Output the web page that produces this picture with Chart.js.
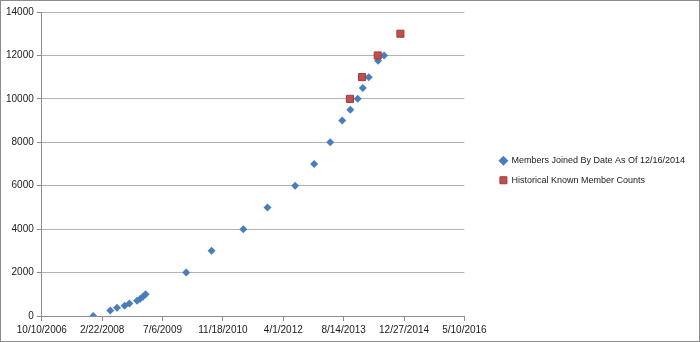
<!DOCTYPE html>
<html lang="en">
<head>
<meta charset="UTF-8">
<title>Members</title>
<style>
  html, body { margin: 0; padding: 0; background: #fff; }
  .frame { width: 700px; height: 342px; box-sizing: border-box; border: 1px solid #8c8c8c; }
</style>
</head>
<body>
<div class="frame">
  <canvas id="myChart" width="698" height="340"></canvas>
</div>

<script src="https://cdn.jsdelivr.net/npm/chart.js"></script>
<script>
  // members joined by date
  const memberDates = ['2007-12-10', '2008-04-29', '2008-06-24', '2008-08-26', '2008-10-04', '2008-12-07',
    '2009-01-03', '2009-01-26', '2009-02-16', '2010-01-18', '2010-08-16', '2011-05-06', '2011-11-22',
    '2012-07-08', '2012-12-13', '2013-04-25', '2013-08-02', '2013-10-08', '2013-12-08', '2014-01-19',
    '2014-03-10', '2014-05-26', '2014-07-15'];
  const memberCounts = [0, 250, 375, 475, 575, 700, 800, 900, 1000, 2000, 3000, 4000, 5000,
    6000, 7000, 8000, 9000, 9500, 10000, 10500, 11000, 11750, 12000];

  // historical known member counts
  const knownDates = ['2013-10-05', '2014-01-13', '2014-05-23', '2014-11-27'];
  const knownCounts = [10000, 11000, 12000, 13000];

  const seriesNames = ['Members Joined By Date As Of 12/16/2014', 'Historical Known Member Counts'];

  // axis range (spreadsheet date serials) and tick steps
  const xMin = 39000, xMax = 42500, xStep = 500;
  const yMin = 0, yMax = 14000, yStep = 2000;

  const DAY = 86400000;
  const EPOCH = Date.UTC(1899, 11, 30);

  const toSerial = s => {
    const [y, m, d] = s.split('-').map(Number);
    return (Date.UTC(y, m - 1, d) - EPOCH) / DAY;
  };
  const fmtSerial = v => {
    const dt = new Date(EPOCH + v * DAY);
    return (dt.getUTCMonth() + 1) + '/' + dt.getUTCDate() + '/' + dt.getUTCFullYear();
  };
  const toPoints = (dates, vals) => dates.map((d, i) => ({ x: toSerial(d), y: vals[i] }));

  // empty layout box that keeps some room between the plot and the legend
  const legendGap = {
    id: 'legendGap',
    beforeInit(chart) {
      Chart.layouts.addBox(chart, {
        position: 'right',
        weight: 500,
        fullSize: false,
        options: {},
        isHorizontal: () => false,
        update(w, h) { this.width = 25; this.height = h; },
        getPadding: () => ({ left: 0, top: 0, right: 0, bottom: 0 }),
        draw() {}
      });
    }
  };

  Chart.defaults.font.family = '"Liberation Sans", Arial, sans-serif';
  Chart.defaults.font.size = 10;
  Chart.defaults.color = '#1a1a1a';

  new Chart(document.getElementById('myChart'), {
    type: 'scatter',
    data: {
      datasets: [{
        label: seriesNames[0],
        data: toPoints(memberDates, memberCounts),
        pointStyle: 'rectRot',
        pointRadius: 4,
        pointHoverRadius: 4,
        backgroundColor: '#4a7ebb',
        borderColor: '#4a7ebb',
        borderWidth: 0,
        order: 1
      }, {
        label: seriesNames[1],
        data: toPoints(knownDates, knownCounts),
        pointStyle: 'rect',
        pointRadius: 5,
        pointHoverRadius: 5,
        backgroundColor: '#c0504d',
        borderColor: '#a03c3a',
        borderWidth: 1,
        order: 0
      }]
    },
    plugins: [legendGap],
    options: {
      responsive: false,
      animation: false,
      layout: { padding: { left: 2, top: 1, right: 4, bottom: 2 } },
      plugins: {
        tooltip: { enabled: false },
        legend: {
          position: 'right',
          maxWidth: 240,
          labels: {
            usePointStyle: true,
            boxWidth: 7,
            boxHeight: 7,
            padding: 10.5,
            font: { size: 9 },
            color: '#1a1a1a',
            sort: (a, b) => a.datasetIndex - b.datasetIndex
          }
        }
      },
      scales: {
        x: {
          type: 'linear',
          min: xMin,
          max: xMax,
          border: { color: '#8c8c8c' },
          grid: { drawOnChartArea: false, tickLength: 5, tickColor: '#8c8c8c' },
          ticks: { stepSize: xStep, maxRotation: 0, padding: 3, callback: v => fmtSerial(v) }
        },
        y: {
          min: yMin,
          max: yMax,
          border: { color: '#8c8c8c' },
          grid: { color: '#b3b3b3', tickLength: 5, tickColor: '#8c8c8c' },
          ticks: { stepSize: yStep, padding: 3, callback: v => String(v) },
          afterFit: axis => { axis.paddingTop = 11; }
        }
      }
    }
  });
</script>
</body>
</html>
